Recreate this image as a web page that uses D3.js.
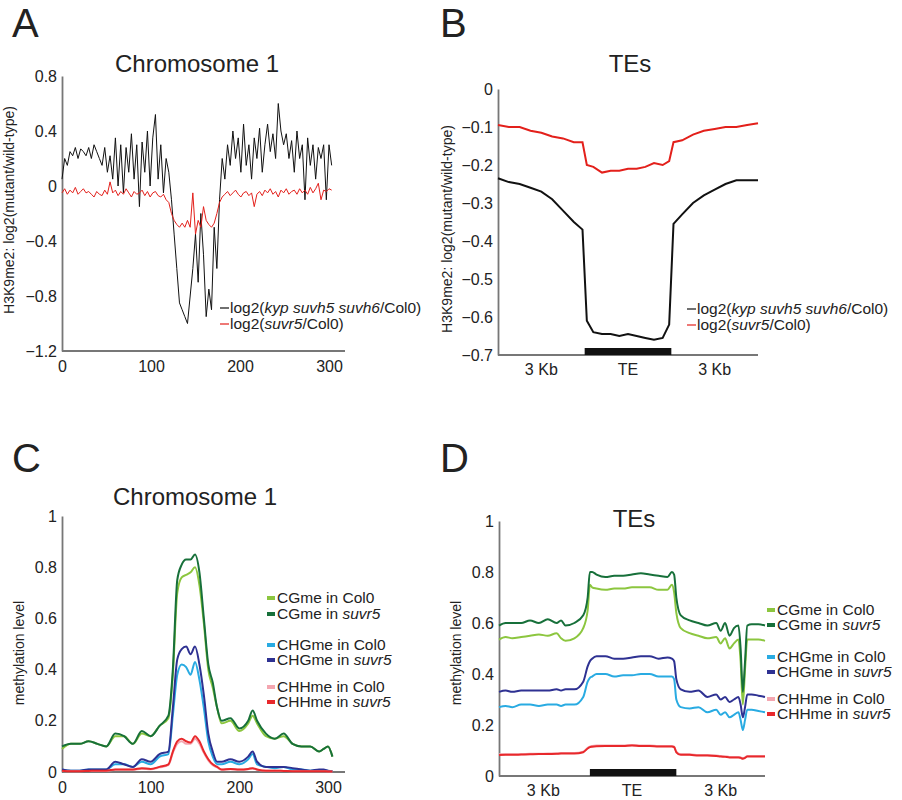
<!DOCTYPE html>
<html><head><meta charset="utf-8">
<script src="https://cdn.jsdelivr.net/npm/d3@7"></script>
<style>body{margin:0;background:#fff}svg{font-family:"Liberation Sans",Arial,sans-serif}</style>
</head><body><svg id="c" width="902" height="800"></svg>
<script>
// Panel A: chromosome 1 H3K9me2 log2 ratios (x step 3)
const aStep = 3;
const aKyp = [0.05,0.2,0.15,0.25,0.22,0.28,0.2,0.27,0.25,0.22,
0.28,0.2,0.3,0.25,0.2,0.15,0.28,0.1,0.22,0.05,
0.35,0.0,0.3,-0.05,0.28,0.1,0.38,0.05,0.3,-0.15,
0.32,0.1,0.4,0.0,0.35,0.52,0.05,0.3,-0.05,0.2,
0.1,-0.1,-0.35,-0.6,-0.85,-0.9,-0.95,-1.0,-0.8,-0.6,
-0.35,-0.7,-0.2,-0.5,-0.95,-0.75,-0.9,-0.3,-0.6,-0.1,
0.2,0.05,0.3,0.15,0.4,0.2,0.35,0.1,0.45,0.15,
0.3,0.05,0.35,0.2,0.42,0.1,0.3,0.45,0.25,0.38,
0.2,0.6,0.4,0.3,0.38,0.2,0.33,0.1,0.4,0.2,
0.3,-0.1,0.35,0.15,0.3,0.05,0.28,0.2,0.3,-0.1,
0.3,0.15];
const aSuvr5 = [-0.05,-0.02,-0.06,-0.03,-0.05,-0.01,-0.06,-0.04,-0.02,-0.05,
-0.04,-0.06,-0.08,-0.04,-0.06,-0.07,-0.03,-0.06,0.03,-0.05,
-0.03,-0.07,-0.04,-0.06,-0.02,-0.05,-0.08,-0.04,-0.06,-0.05,
-0.03,-0.07,-0.04,-0.08,-0.05,-0.04,-0.07,-0.08,-0.06,-0.1,
-0.12,-0.2,-0.25,-0.28,-0.3,-0.27,-0.3,-0.25,-0.3,-0.05,
-0.35,-0.25,-0.3,-0.15,-0.25,-0.28,-0.3,-0.27,-0.2,-0.12,
-0.08,-0.06,-0.04,-0.07,-0.05,-0.03,-0.06,-0.08,-0.05,-0.04,
-0.07,-0.05,-0.15,-0.06,-0.04,-0.07,-0.03,-0.05,-0.02,-0.06,
-0.04,-0.08,-0.03,-0.05,-0.02,-0.06,-0.04,-0.03,-0.06,-0.02,
-0.05,-0.03,-0.06,-0.01,-0.05,-0.02,0.02,-0.1,-0.03,-0.04,
-0.02,-0.03];
const aTicksY = [0.8,0.4,0,-0.4,-0.8,-1.2];
const chrTicksX = [0,100,200,300];

// Panel B: TE metaplot (flank 0-40, TE 40-80, flank 80-120)
const bX = [0,5,10,15,20,25,30,35,39,41,44,48,52,56,60,64,68,72,76,79,81,85,90,95,100,105,110,115,120];
const bKyp = [-0.235,-0.245,-0.25,-0.26,-0.27,-0.29,-0.32,-0.35,-0.37,-0.61,-0.64,-0.645,-0.645,-0.65,-0.645,-0.65,-0.655,-0.66,-0.655,-0.62,-0.355,-0.33,-0.3,-0.28,-0.265,-0.25,-0.24,-0.24,-0.24];
const bSuvr5 = [-0.095,-0.1,-0.1,-0.11,-0.115,-0.125,-0.13,-0.14,-0.14,-0.2,-0.205,-0.22,-0.215,-0.215,-0.21,-0.21,-0.205,-0.195,-0.2,-0.19,-0.14,-0.135,-0.12,-0.11,-0.105,-0.1,-0.1,-0.095,-0.09];
const bTicksY = [0,-0.1,-0.2,-0.3,-0.4,-0.5,-0.6,-0.7];
const teLabels = ["3 Kb","TE","3 Kb"];

// Panel C: chromosome 1 methylation
const cX = [0,10,20,30,40,50,60,70,80,90,100,110,120,125,130,135,140,145,150,155,160,165,170,175,180,190,200,210,215,220,230,240,250,260,270,280,290,295,300,305];
const cCGsuvr5 = [0.1,0.11,0.11,0.12,0.11,0.1,0.15,0.14,0.11,0.16,0.14,0.18,0.22,0.4,0.75,0.81,0.83,0.83,0.85,0.78,0.6,0.42,0.35,0.25,0.2,0.21,0.17,0.2,0.24,0.2,0.15,0.13,0.15,0.11,0.1,0.1,0.08,0.09,0.1,0.06];
const cCGcol0 = [0.09,0.11,0.11,0.12,0.11,0.1,0.14,0.14,0.11,0.15,0.14,0.18,0.21,0.38,0.7,0.76,0.77,0.78,0.8,0.73,0.58,0.4,0.33,0.25,0.19,0.2,0.16,0.19,0.22,0.19,0.14,0.13,0.14,0.11,0.1,0.1,0.08,0.09,0.1,0.06];
const cCHGsuvr5 = [0.01,0.005,0.005,0.01,0.01,0.01,0.04,0.03,0.02,0.05,0.04,0.07,0.08,0.25,0.44,0.48,0.49,0.46,0.49,0.42,0.3,0.15,0.08,0.04,0.04,0.05,0.04,0.06,0.08,0.04,0.02,0.02,0.02,0.015,0.01,0.005,0.01,0.01,0.005,0.003];
const cCHGcol0 = [0.01,0.005,0.005,0.01,0.01,0.01,0.03,0.03,0.02,0.04,0.03,0.06,0.07,0.22,0.38,0.42,0.41,0.38,0.43,0.36,0.25,0.12,0.06,0.03,0.03,0.04,0.03,0.05,0.07,0.03,0.02,0.015,0.02,0.01,0.01,0.005,0.008,0.008,0.004,0.003];
const cCHHsuvr5 = [0.005,0.003,0.003,0.004,0.005,0.005,0.01,0.01,0.01,0.015,0.012,0.02,0.03,0.08,0.12,0.13,0.12,0.115,0.14,0.12,0.08,0.05,0.03,0.02,0.01,0.012,0.01,0.012,0.015,0.01,0.005,0.005,0.004,0.003,0.003,0.003,0.003,0.003,0.002,0.002];
const cCHHcol0 = [0.004,0.003,0.003,0.004,0.004,0.004,0.009,0.009,0.009,0.013,0.011,0.018,0.027,0.075,0.11,0.12,0.11,0.11,0.13,0.11,0.075,0.045,0.027,0.018,0.009,0.011,0.009,0.011,0.014,0.009,0.005,0.005,0.004,0.003,0.003,0.003,0.003,0.003,0.002,0.002];
const methTicksY = [0,0.2,0.4,0.6,0.8,1];

// Panel D: TE methylation metaplot
const dX = [0,3,6,10,14,18,22,26,28,30,34,38,40,41,42,44,48,52,56,60,64,68,72,76,78,79,80,82,86,90,94,98,100,102,104,106,108,109,110,111,112,114,117,120];
const dCGsuvr5 = [0.59,0.6,0.6,0.6,0.61,0.6,0.615,0.6,0.61,0.59,0.6,0.63,0.7,0.8,0.8,0.79,0.78,0.785,0.785,0.79,0.795,0.79,0.785,0.78,0.8,0.79,0.7,0.63,0.61,0.6,0.59,0.6,0.57,0.6,0.55,0.58,0.59,0.5,0.33,0.45,0.59,0.595,0.595,0.59];
const dCGcol0 = [0.535,0.545,0.54,0.545,0.55,0.555,0.55,0.56,0.54,0.53,0.54,0.58,0.65,0.75,0.74,0.735,0.73,0.735,0.735,0.74,0.74,0.74,0.73,0.73,0.75,0.72,0.64,0.58,0.56,0.55,0.54,0.545,0.52,0.54,0.5,0.52,0.535,0.45,0.28,0.42,0.535,0.535,0.535,0.53];
const dCHGsuvr5 = [0.33,0.335,0.33,0.335,0.335,0.335,0.335,0.34,0.335,0.34,0.34,0.37,0.43,0.45,0.46,0.47,0.47,0.46,0.46,0.465,0.47,0.47,0.46,0.465,0.46,0.45,0.38,0.34,0.33,0.335,0.31,0.32,0.3,0.31,0.29,0.3,0.31,0.28,0.23,0.27,0.32,0.32,0.315,0.31];
const dCHGcol0 = [0.27,0.275,0.27,0.28,0.28,0.275,0.28,0.28,0.275,0.28,0.28,0.31,0.37,0.385,0.39,0.4,0.4,0.39,0.395,0.395,0.4,0.4,0.39,0.39,0.39,0.38,0.3,0.27,0.265,0.27,0.25,0.26,0.24,0.25,0.23,0.24,0.25,0.22,0.18,0.22,0.26,0.26,0.255,0.25];
const dCHHcol0 = [0.085,0.085,0.085,0.085,0.087,0.087,0.088,0.088,0.09,0.09,0.09,0.095,0.11,0.115,0.118,0.12,0.12,0.12,0.12,0.122,0.12,0.12,0.118,0.118,0.118,0.115,0.095,0.085,0.085,0.082,0.082,0.08,0.078,0.077,0.075,0.075,0.075,0.073,0.07,0.073,0.078,0.078,0.078,0.078];
const dCHHsuvr5 = [0.082,0.083,0.083,0.084,0.085,0.086,0.086,0.087,0.088,0.088,0.088,0.093,0.108,0.113,0.115,0.117,0.118,0.118,0.118,0.12,0.118,0.118,0.116,0.116,0.116,0.113,0.093,0.083,0.083,0.08,0.08,0.078,0.076,0.075,0.073,0.073,0.073,0.071,0.068,0.071,0.076,0.076,0.076,0.076];

const methColors = {cgCol:"#8cc63f", cgSu:"#17703a", chgCol:"#29abe2", chgSu:"#2e3192", chhCol:"#f4a6b0", chhSu:"#e8282b"};

const svg = d3.select("#c");
const AX = "#777";

function axes(g, x, y, yTicks, yFmt, xTicks, xRight){
  const yl = g.append("g").attr("transform",`translate(${x.range()[0]},0)`)
    .call(d3.axisLeft(y).tickValues(yTicks).tickFormat(yFmt).tickSize(0).tickPadding(5));
  const xl = g.append("g").attr("transform",`translate(0,${y.range()[0]})`);
  if(xTicks) xl.call(d3.axisBottom(x).tickValues(xTicks).tickSize(0).tickPadding(10));
  else xl.call(d3.axisBottom(x).tickValues([]).tickSize(0));
  [yl,xl].forEach(a=>{a.selectAll("path,line").attr("stroke",AX);a.selectAll("text").attr("font-size",16).attr("fill","#222");a.select(".domain").attr("stroke-width",1.8);});
  xl.select(".domain").attr("d",`M${x.range()[0]},0H${xRight}`);
}
function ylabel(txt,x,y){svg.append("text").attr("transform",`translate(${x},${y}) rotate(-90)`).attr("text-anchor","middle").attr("font-size",14).attr("fill","#222").text(txt);}
function title(txt,x,y){svg.append("text").attr("x",x).attr("y",y).attr("text-anchor","middle").attr("font-size",24).attr("fill","#222").text(txt);}
function letter(txt,x,y){svg.append("text").attr("x",x).attr("y",y).attr("font-size",40).attr("fill","#222").text(txt);}
const fmtA = d=> d===0?"0":d3.format(".1f")(d);
function legendLine(x,y,col,it){
  svg.append("line").attr("x1",x).attr("x2",x+9).attr("y1",y).attr("y2",y).attr("stroke",col).attr("stroke-width",1.2);
  const t=svg.append("text").attr("x",x+10).attr("y",y+5).attr("font-size",15.5).attr("fill","#222");
  t.append("tspan").text("log2(");t.append("tspan").attr("font-style","italic").text(it[0]);t.append("tspan").text("/Col0)");
}

// ---- Panel A
letter("A",12,37); title("Chromosome 1",197,72);
{
  const x=d3.scaleLinear().domain([0,300]).range([62,329]);
  const y=d3.scaleLinear().domain([-1.2,0.8]).range([351,76]);
  const g=svg.append("g");
  axes(g,x,y,aTicksY,fmtA,chrTicksX,345);
  const ln=d3.line().x((d,i)=>x(i*aStep)).y(d=>y(d));
  g.append("path").datum(aKyp).attr("d",ln).attr("fill","none").attr("stroke","#111").attr("stroke-width",1);
  g.append("path").datum(aSuvr5).attr("d",ln).attr("fill","none").attr("stroke","#e3201b").attr("stroke-width",1);
  ylabel("H3K9me2: log2(mutant/wild-type)",14,210);
  legendLine(220,308,"#111",["kyp suvh5 suvh6"]);
  legendLine(220,324,"#e3201b",["suvr5"]);
}
// ---- Panel B
letter("B",440,37); title("TEs",630,72);
{
  const x=d3.scaleLinear().domain([0,120]).range([498,758]);
  const y=d3.scaleLinear().domain([-0.7,0]).range([355,89]);
  const g=svg.append("g");
  axes(g,x,y,bTicksY,d=>d===0?"0":d3.format(".1f")(d),null,758);
  g.append("rect").attr("x",x(40)).attr("width",x(80)-x(40)).attr("y",y(-0.7)-7).attr("height",7).attr("fill","#111");
  [20,60,100].forEach((v,i)=>g.append("text").attr("x",x(v)).attr("y",375).attr("text-anchor","middle").attr("font-size",16).attr("fill","#222").text(teLabels[i]));
  const ln=d3.line().x((d,i)=>x(bX[i])).y(d=>y(d));
  g.append("path").datum(bKyp).attr("d",ln).attr("fill","none").attr("stroke","#111").attr("stroke-width",2);
  g.append("path").datum(bSuvr5).attr("d",ln).attr("fill","none").attr("stroke","#e3201b").attr("stroke-width",2);
  ylabel("H3K9me2: log2(mutant/wild-type)",452,229);
  legendLine(687,309,"#111",["kyp suvh5 suvh6"]);
  legendLine(687,325,"#e3201b",["suvr5"]);
}
function methLegend(x,ys){
  const items=[["CGme in ","Col0",methColors.cgCol,false],["CGme in ","suvr5",methColors.cgSu,true],["CHGme in ","Col0",methColors.chgCol,false],["CHGme in ","suvr5",methColors.chgSu,true],["CHHme in ","Col0",methColors.chhCol,false],["CHHme in ","suvr5",methColors.chhSu,true]];
  items.forEach((it,i)=>{
    svg.append("rect").attr("x",x).attr("y",ys[i]-2).attr("width",8).attr("height",4).attr("fill",it[2]);
    const t=svg.append("text").attr("x",x+10).attr("y",ys[i]+5).attr("font-size",15.5).attr("fill","#222");
    t.append("tspan").text(it[0]);t.append("tspan").attr("font-style",it[3]?"italic":"normal").text(it[1]);
  });
}
function methLines(g,x,y,xs,series){
  const ln=d3.line().x((d,i)=>x(xs[i])).y(d=>y(d)).curve(d3.curveMonotoneX);
  series.forEach(s=>g.append("path").datum(s[0]).attr("d",ln).attr("fill","none").attr("stroke",s[1]).attr("stroke-width",2));
}
// ---- Panel C
letter("C",12,472); title("Chromosome 1",195,505);
{
  const x=d3.scaleLinear().domain([0,300]).range([62,328]);
  const y=d3.scaleLinear().domain([0,1]).range([772,516]);
  const g=svg.append("g");
  axes(g,x,y,methTicksY,d=>d===0||d===1?String(d):d3.format(".1f")(d),chrTicksX,345);
  methLines(g,x,y,cX,[[cCGcol0,methColors.cgCol],[cCGsuvr5,methColors.cgSu],[cCHGcol0,methColors.chgCol],[cCHGsuvr5,methColors.chgSu],[cCHHcol0,methColors.chhCol],[cCHHsuvr5,methColors.chhSu]]);
  ylabel("methylation level",24,653);
  methLegend(267,[598,614,645,660,687,702]);
}
// ---- Panel D
letter("D",440,472); title("TEs",634,527);
{
  const x=d3.scaleLinear().domain([0,120]).range([499,765]);
  const y=d3.scaleLinear().domain([0,1]).range([776,521]);
  const g=svg.append("g");
  axes(g,x,y,methTicksY,d=>d===0||d===1?String(d):d3.format(".1f")(d),null,765);
  g.append("rect").attr("x",x(41)).attr("width",x(80)-x(41)).attr("y",y(0)-7).attr("height",7).attr("fill","#111");
  [20,60,100].forEach((v,i)=>g.append("text").attr("x",x(v)).attr("y",796).attr("text-anchor","middle").attr("font-size",16).attr("fill","#222").text(teLabels[i]));
  methLines(g,x,y,dX,[[dCGcol0,methColors.cgCol],[dCGsuvr5,methColors.cgSu],[dCHGcol0,methColors.chgCol],[dCHGsuvr5,methColors.chgSu],[dCHHcol0,methColors.chhCol],[dCHHsuvr5,methColors.chhSu]]);
  ylabel("methylation level",461,653);
  methLegend(767,[610,625,657,672,699,714]);
}
</script></body></html>
